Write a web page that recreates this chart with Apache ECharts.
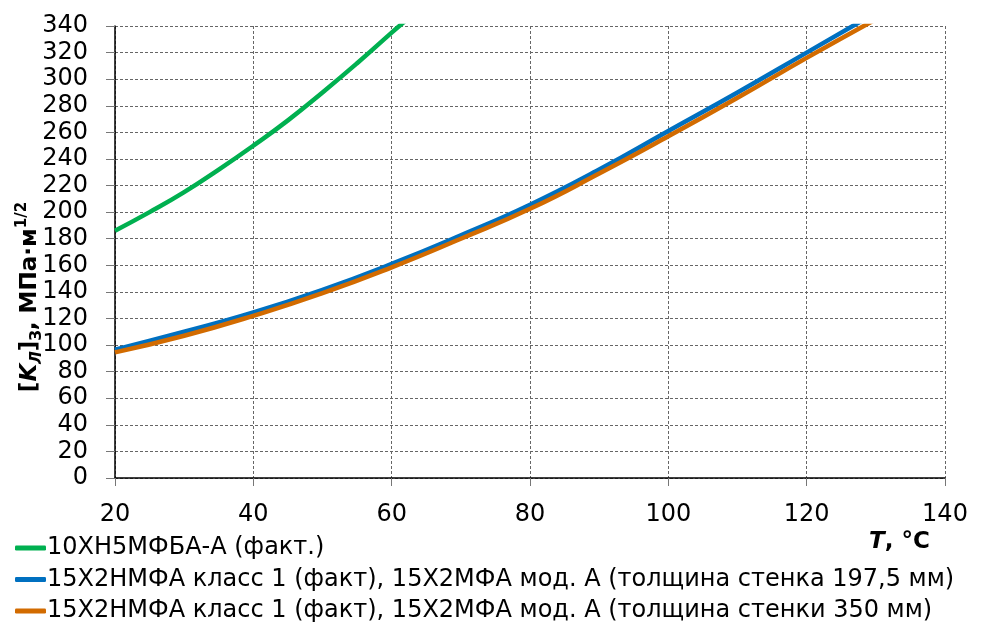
<!DOCTYPE html>
<html>
<head>
<meta charset="utf-8">
<script src="https://cdn.jsdelivr.net/npm/echarts@6/dist/echarts.min.js"></script>
<style>
  html, body { margin: 0; padding: 0; background: #fff; }
  #chart { width: 983px; height: 628px; }
</style>
</head>
<body>
<div id="chart"></div>
<script>
// температура, °C
const tGreen = [20, 25, 30, 35, 40, 45, 50, 55, 60, 62];
const kGreen = [186, 200, 215, 232, 250, 269, 290, 312, 335, 344];
const tSteel = [20, 30, 40, 50, 60, 70, 80, 90, 100, 110, 120, 130];
const kBlue = [96.5, 110, 124.5, 141.5, 161, 182.5, 205.5, 232, 261, 290, 320, 350];
const kOrange = [94.5, 107, 122, 139, 158.5, 180, 202.5, 229, 257, 286, 316, 345];
const seriesNames = [
  "10ХН5МФБА-А (факт.)",
  "15Х2НМФА класс 1 (факт), 15Х2МФА мод. А (толщина стенка 197,5 мм)",
  "15Х2НМФА класс 1 (факт), 15Х2МФА мод. А (толщина стенки 350 мм)"
];
const colors = ["#00B050", "#0070C0", "#D26B00"];

function pairs(xs, ys) {
  return xs.map((x, i) => [x, ys[i]]);
}

const font = "DejaVu Sans, sans-serif";
var myChart = echarts.init(document.getElementById("chart"));
myChart.setOption({
  animation: false,
  color: colors,
  grid: { left: 115, right: 38, top: 26, bottom: 150 },
  xAxis: {
    type: "value",
    min: 20,
    max: 140,
    interval: 20,
    axisLine: { show: true, lineStyle: { color: "#000", width: 1.5 } },
    axisTick: { show: true, length: 8, lineStyle: { color: "#777" } },
    axisLabel: { margin: 25, fontSize: 24, color: "#000", fontFamily: font },
    splitLine: { show: true, lineStyle: { type: [3, 2], color: "#666", width: 1 } }
  },
  yAxis: {
    type: "value",
    min: 0,
    max: 340,
    interval: 20,
    axisLine: { show: true, onZero: false, lineStyle: { color: "#000", width: 1.5 } },
    axisTick: { show: true, length: 9, lineStyle: { color: "#777" } },
    axisLabel: { margin: 27, fontSize: 24, color: "#000", fontFamily: font },
    splitLine: { show: true, lineStyle: { type: [3, 2], color: "#666", width: 1 } }
  },
  legend: {
    orient: "vertical",
    left: 15,
    top: 536,
    padding: 0,
    itemWidth: 31,
    itemHeight: 5,
    itemGap: 7.5,
    icon: "roundRect",
    textStyle: { fontSize: 24, lineHeight: 24, color: "#000", fontFamily: font, padding: [0, 0, 0, -4] },
    data: seriesNames
  },
  graphic: [
    {
      type: "text",
      x: 30,
      y: 297,
      rotation: Math.PI / 2,
      style: {
        text: "{a|[}{k|K}{s|Л}{a|]}{s2|З}{a|, МПа·м}{p|1/2}",
        align: "center",
        verticalAlign: "middle",
        rich: {
          a: { fontSize: 23, fontWeight: "bold", fontFamily: font, lineHeight: 30, fill: "#000" },
          k: { fontSize: 23, fontWeight: "bold", fontStyle: "italic", fontFamily: font, lineHeight: 30, fill: "#000" },
          s: { fontSize: 15, fontWeight: "bold", fontStyle: "italic", fontFamily: font, lineHeight: 15, verticalAlign: "bottom", fill: "#000" },
          s2: { fontSize: 15, fontWeight: "bold", fontFamily: font, lineHeight: 15, verticalAlign: "bottom", fill: "#000" },
          p: { fontSize: 15, fontWeight: "bold", fontFamily: font, lineHeight: 15, verticalAlign: "top", fill: "#000" }
        }
      }
    },
    {
      type: "text",
      x: 869,
      y: 542,
      style: {
        text: "{t|T}{a|, °C}",
        verticalAlign: "middle",
        rich: {
          t: { fontSize: 23, fontWeight: "bold", fontStyle: "italic", fontFamily: font, fill: "#000" },
          a: { fontSize: 23, fontWeight: "bold", fontFamily: font, fill: "#000" }
        }
      }
    }
  ],
  series: [
    {
      name: seriesNames[0],
      type: "line",
      smooth: true,
      showSymbol: false,
      lineStyle: { width: 4.5, color: colors[0] },
      data: pairs(tGreen, kGreen)
    },
    {
      name: seriesNames[1],
      type: "line",
      smooth: true,
      showSymbol: false,
      lineStyle: { width: 4.5, color: colors[1] },
      data: pairs(tSteel, kBlue)
    },
    {
      name: seriesNames[2],
      type: "line",
      smooth: true,
      showSymbol: false,
      lineStyle: { width: 4.5, color: colors[2] },
      data: pairs(tSteel, kOrange)
    }
  ]
});
window.addEventListener("resize", function () {
  myChart.resize();
});
</script>
</body>
</html>
